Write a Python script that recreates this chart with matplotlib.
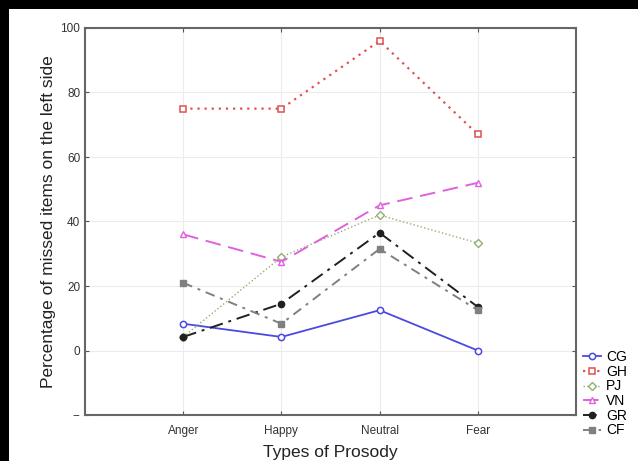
import numpy as np
import matplotlib.pyplot as plt
from matplotlib.patches import Rectangle

plt.rcParams['font.family'] = ['Liberation Sans', 'DejaVu Sans']

# data
categories = ['Anger', 'Happy', 'Neutral', 'Fear']
cg = [8.3, 4.2, 12.5, 0.0]
gh = [75, 75, 96, 67]
pj = [4.2, 29, 42, 33.3]
vn = [36, 27.5, 45, 52]
gr = [4.2, 14.5, 36.5, 13.5]
cf = [21, 8.3, 31.5, 12.5]
yticks = [-20, 0, 20, 40, 60, 80, 100]
ytick_labels = ['--', '0', '20', '40', '60', '80', '100']

fig = plt.figure(figsize=(6.38, 4.61), dpi=100, facecolor='black')
# white page inside black border on left and top
fig.patches.append(Rectangle((9/638, 0), 1, 1 - 9/461, transform=fig.transFigure,
                             facecolor='white', edgecolor='none', zorder=-1))
ax = fig.add_axes([85/638, 1 - 415/461, 491/638, 387/461])

x = np.arange(1, len(categories) + 1)
ax.plot(x, cg, '-', color='#4a4ae0', lw=1.3, marker='o', ms=4.5, mfc='white', mew=1.1, label='CG')
ax.plot(x, gh, color='#e05050', lw=1.6, marker='s', ms=4.5, mfc='white', mew=1.1,
        dashes=(1, 2.2), label='GH')
ax.plot(x, pj, ':', color='#90b070', lw=1.0, marker='D', ms=3.8, mfc='white', mew=1.0, label='PJ')
ax.plot(x, vn, '--', color='#e060e0', lw=1.4, marker='^', ms=4.5, mfc='white', mew=1.0,
        dashes=(8, 4), label='VN')
ax.plot(x, gr, color='#202020', lw=1.4, marker='o', ms=4.5, dashes=(7, 3, 1.5, 3), label='GR')
ax.plot(x, cf, color='#808080', lw=1.4, marker='s', ms=4.5, dashes=(5, 3, 1.5, 3), label='CF')

ax.set_xlim(0, 5)
ax.set_ylim(-20, 100)
ax.set_xticks(x)
ax.set_xticklabels(categories)
ax.set_yticks(yticks)
ax.set_yticklabels(ytick_labels)
ax.grid(True, color='#ececec', lw=0.8)
ax.set_axisbelow(True)
ax.tick_params(direction='in', length=3, labelsize=8.5, colors='#555555',
               labelcolor='#333333', top=True, right=True)
ax.tick_params(axis='x', pad=7)
for s in ax.spines.values():
    s.set_color('#666666')
    s.set_linewidth(1.5)

ax.set_xlabel('Types of Prosody', fontsize=12.5, color='#222222', labelpad=6)
ax.set_ylabel('Percentage of missed items on the left side', fontsize=12.5, color='#222222', labelpad=3)

ax.legend(loc='upper left', bbox_to_anchor=(583/638, 1 - 350/461), bbox_transform=fig.transFigure,
          frameon=False, fontsize=10, handlelength=1.3, handletextpad=0.35, labelspacing=0.05,
          borderpad=0, borderaxespad=0)

fig.savefig('out.png', dpi=100, facecolor=fig.get_facecolor())
